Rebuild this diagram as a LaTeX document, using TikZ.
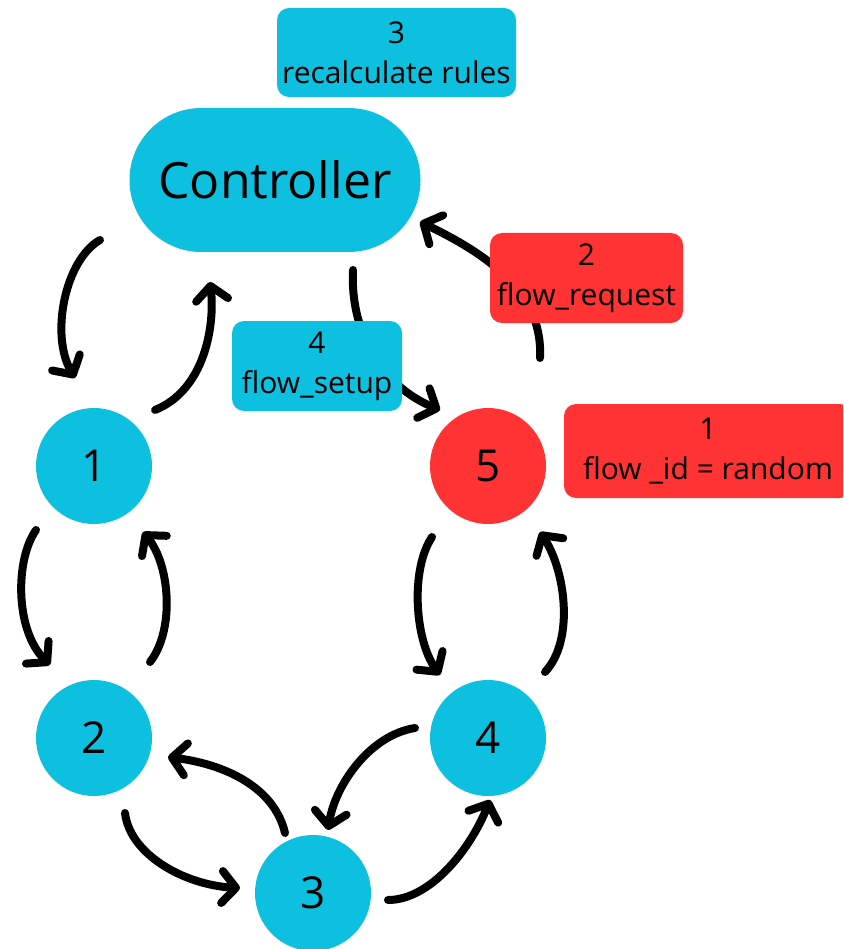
\documentclass[tikz,border=0pt]{standalone}
\usepackage{fontspec}
\setmainfont{Open Sans}
\usetikzlibrary{calc,arrows.meta}
\definecolor{sky}{RGB}{14,192,223}
\definecolor{alert}{RGB}{255,51,51}
\tikzset{
  station/.style={circle, fill=sky, minimum size=116pt, inner sep=0pt, font=\fontsize{44}{44}\selectfont},
  hotstation/.style={station, fill=alert},
  tag/.style={rounded corners=12pt, fill=sky, align=center, inner sep=0pt, font=\fontsize{30}{40}\selectfont},
  hottag/.style={tag, fill=alert},
  arr/.style={line width=8pt, line cap=round, -{Straight Barb[length=14pt,width=32pt,round]}}
}
\begin{document}
\begin{tikzpicture}[x=1pt,y=-1pt]
\useasboundingbox (0,0) rectangle (843,949);
\clip (0,0) rectangle (843,949);

% controller and switches
\node[rectangle, rounded corners=71.9pt, fill=sky, minimum width=291pt, minimum height=144pt, font=\fontsize{50}{50}\selectfont] (ctrl) at (275,180) {Controller};
\node[station] (c1) at (94,466) {1};
\node[station] (c2) at (94,738) {2};
\node[station] (c3) at (313,893) {3};
\node[station] (c4) at (488,738) {4};
\node[hotstation] (c5) at (488,466) {5};

% connectors
\draw[arr] ($(ctrl)+(-175,60)$) .. controls ($(ctrl)+(-210,80)$) and ($(c1)+(-44,-131)$) .. ($(c1)+(-19,-88)$);
\draw[arr] ($(c1)+(61,-56)$) .. controls ($(c1)+(111,-76)$) and ($(ctrl)+(-60,145)$) .. ($(ctrl)+(-65,102)$);
\draw[arr] ($(ctrl)+(78,90)$) .. controls ($(ctrl)+(75,150)$) and ($(c5)+(-108,-81)$) .. ($(c5)+(-48,-56)$);
\draw[arr] ($(c5)+(52,-108)$) .. controls ($(c5)+(55,-166)$) and ($(ctrl)+(225,80)$) .. ($(ctrl)+(145,42)$);
\draw[arr] ($(c1)+(-58,64)$) .. controls ($(c1)+(-79,94)$) and ($(c2)+(-79,-108)$) .. ($(c2)+(-44,-73)$);
\draw[arr] ($(c2)+(56,-76)$) .. controls ($(c2)+(81,-108)$) and ($(c1)+(76,99)$) .. ($(c1)+(49,66)$);
\draw[arr] ($(c5)+(-56,71)$) .. controls ($(c5)+(-78,104)$) and ($(c4)+(-73,-98)$) .. ($(c4)+(-48,-63)$);
\draw[arr] ($(c4)+(57,-66)$) .. controls ($(c4)+(87,-98)$) and ($(c5)+(77,104)$) .. ($(c5)+(52,66)$);
\draw[arr] ($(c2)+(31,75)$) .. controls ($(c2)+(36,117)$) and ($(c3)+(-128,-8)$) .. ($(c3)+(-73,-5)$);
\draw[arr] ($(c3)+(-28,-60)$) .. controls ($(c3)+(-38,-103)$) and ($(c2)+(136,27)$) .. ($(c2)+(74,19)$);
\draw[arr] ($(c4)+(-73,-10)$) .. controls ($(c4)+(-118,-3)$) and ($(c3)+(22,-108)$) .. ($(c3)+(15,-63)$);
\draw[arr] ($(c3)+(75,7)$) .. controls ($(c3)+(117,7)$) and ($(c4)+(-18,112)$) .. ($(c4)+(2,62)$);

% step labels
\node[tag, minimum width=239pt, minimum height=89pt] (rules) at (396.5,52.5) {3\\recalculate rules};
\node[hottag, minimum width=193pt, minimum height=90pt] (req) at (586.5,278) {2\\flow\_request};
\node[tag, minimum width=170pt, minimum height=90pt] (setup) at (317,366) {4\\flow\_setup};
\node[hottag, minimum width=288pt, minimum height=94pt] (fid) at (708,451) {1\\flow \_id = random};
\end{tikzpicture}
\end{document}
